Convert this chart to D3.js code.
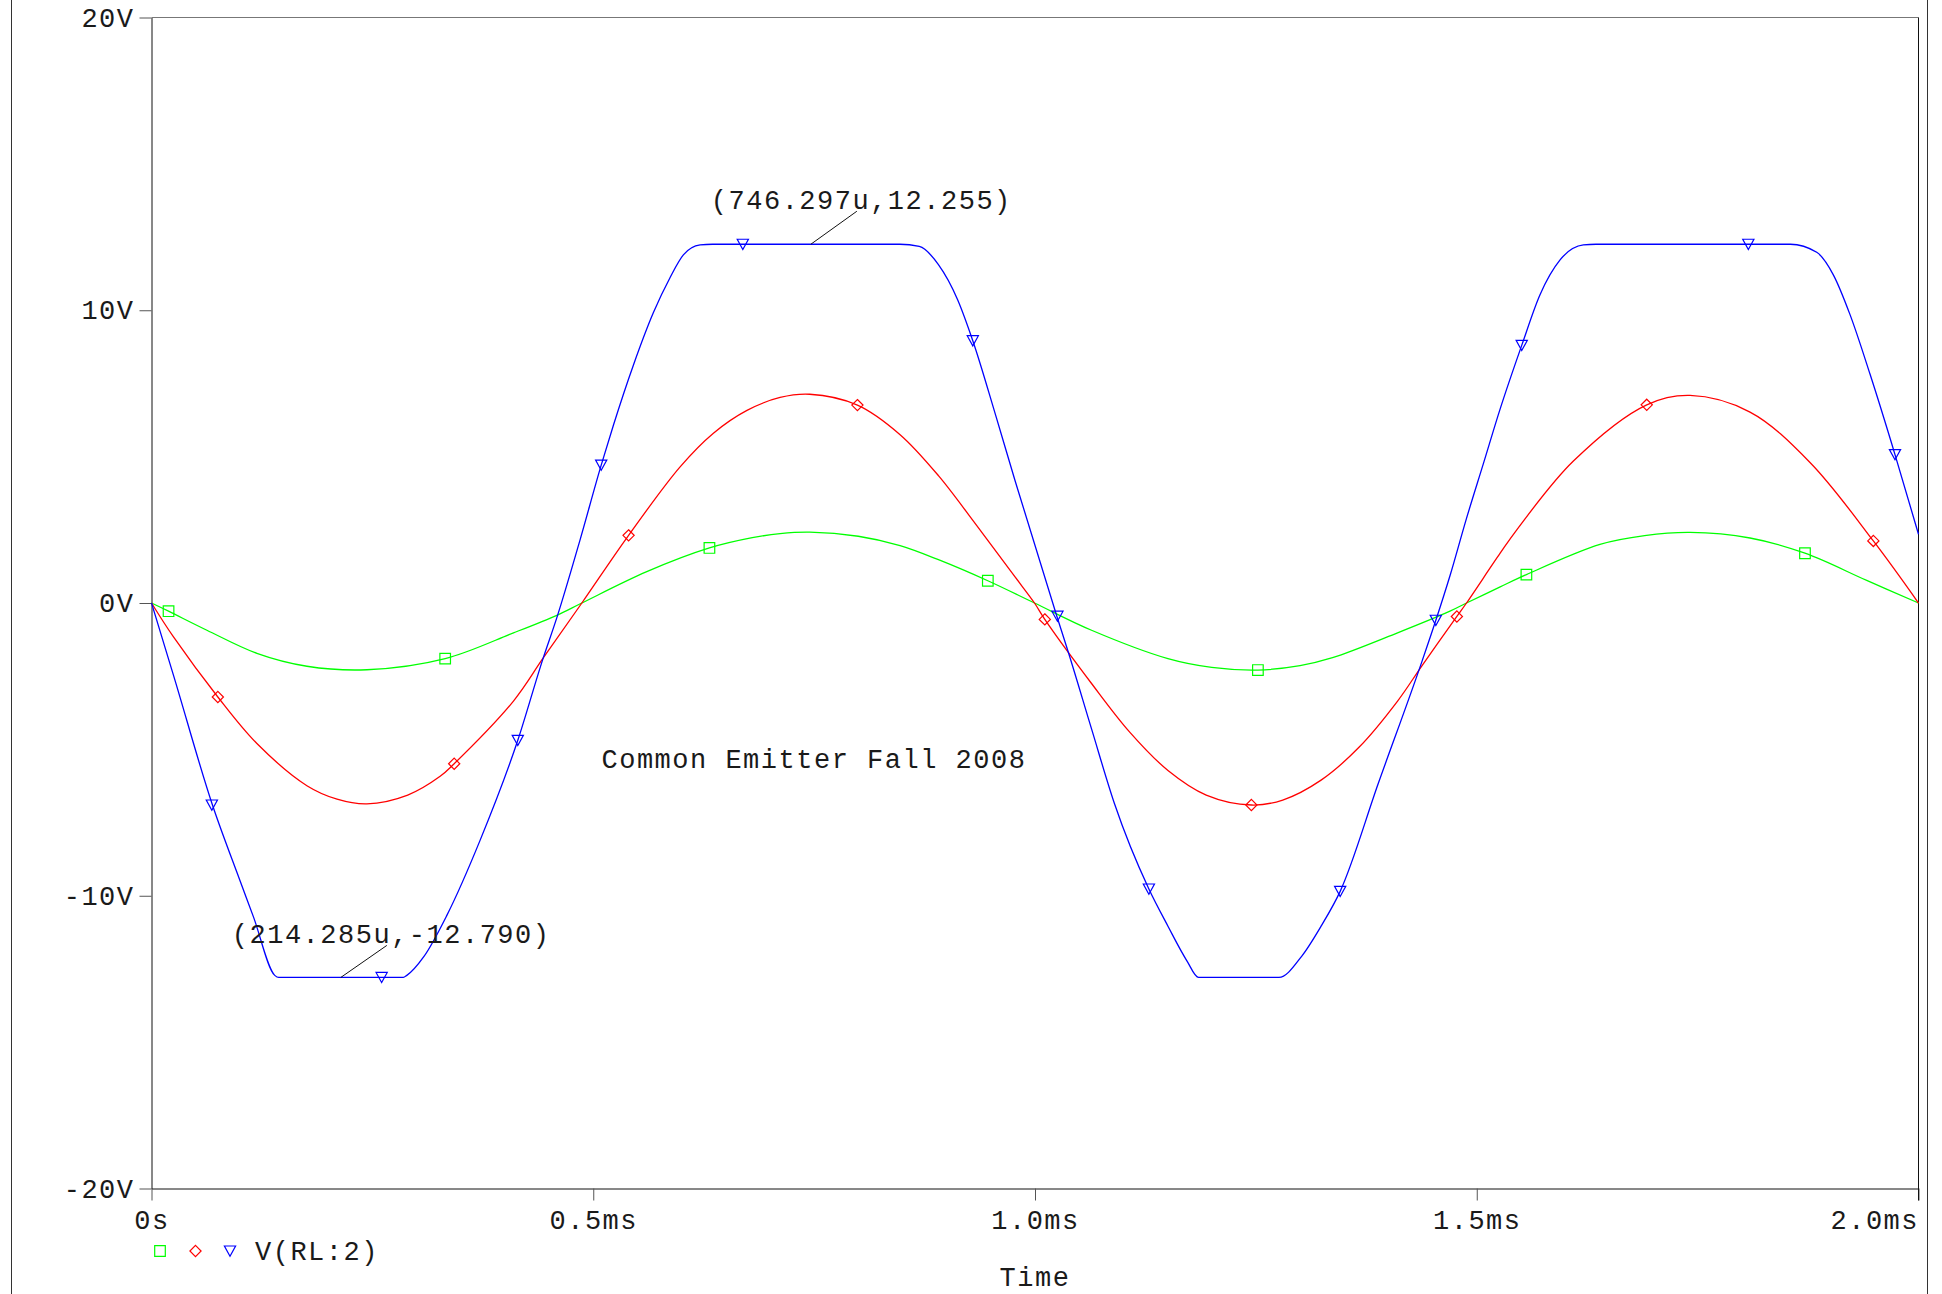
<!DOCTYPE html>
<html>
<head>
<meta charset="utf-8">
<script src="https://cdn.jsdelivr.net/npm/d3@7/dist/d3.min.js"></script>
<style>
  html, body { margin: 0; padding: 0; background: #ffffff; }
  svg { display: block; }
  text { font-family: "Liberation Mono", "DejaVu Sans Mono", monospace; font-size: 27px; letter-spacing: 1.5px; fill: #1a1a1a; }
</style>
</head>
<body>
<svg id="chart" width="1942" height="1294"></svg>
<script>
// ---------- data (time in ms, values in volts) ----------
const timeTicks = [0, 0.5, 1.0, 1.5, 2.0];
const timeTickLabels = ["0s", "0.5ms", "1.0ms", "1.5ms", "2.0ms"];
const voltTicks = [20, 10, 0, -10, -20];
const voltTickLabels = ["20V", "10V", "0V", "-10V", "-20V"];

const greenT = [0, 0.0193, 0.0627, 0.1193, 0.1759, 0.2438, 0.3324, 0.4097, 0.4588, 0.4871,
  0.5606, 0.6315, 0.6800, 0.7115, 0.745, 0.800, 0.8473, 0.8907, 0.9466, 0.9994,
  1.064, 1.1505, 1.2000, 1.2523, 1.3000, 1.3368, 1.4104, 1.4697, 1.4884, 1.5265,
  1.5562, 1.6395, 1.6900, 1.7414, 1.8093, 1.8715, 1.9414, 2.0];
const greenV = [0, -0.28, -0.93, -1.72, -2.16, -2.28, -1.90, -1.02, -0.42, 0.0,
  1.07, 1.88, 2.23, 2.37, 2.42, 2.28, 1.96, 1.48, 0.76, 0.0,
  -0.93, -1.90, -2.20, -2.29, -2.14, -1.87, -1.02, -0.28, 0.0, 0.55,
  0.97, 2.00, 2.30, 2.41, 2.22, 1.70, 0.77, 0.0];

const redT = [0, 0.0249, 0.0751, 0.1193, 0.1759, 0.2100, 0.2438, 0.2900, 0.3267, 0.3426,
  0.4097, 0.4436, 0.4871, 0.540, 0.5983, 0.636, 0.674, 0.7115, 0.745, 0.799,
  0.8473, 0.8907, 0.9339, 0.9772, 0.9994, 1.0111, 1.064, 1.1072, 1.1505, 1.1938,
  1.2449, 1.2804, 1.3238, 1.367, 1.4104, 1.4385, 1.4775, 1.4884, 1.5265, 1.5453,
  1.6094, 1.6924, 1.7414, 1.8093, 1.8772, 1.9489, 2.0];
const redV = [0, -1.16, -3.21, -4.80, -6.24, -6.70, -6.86, -6.56, -5.92, -5.49,
  -3.35, -1.87, 0.0, 2.31, 4.65, 5.80, 6.58, 7.02, 7.13, 6.76,
  5.75, 4.35, 2.65, 0.90, 0.0, -0.56, -2.75, -4.41, -5.72, -6.56,
  -6.90, -6.73, -6.05, -4.92, -3.35, -2.12, -0.46, 0.0, 1.70, 2.50,
  4.85, 6.77, 7.09, 6.52, 4.80, 2.12, 0.0];

const blueT = [0, 0.025, 0.069, 0.100, 0.1155, 0.1395, 0.144, 0.285, 0.289, 0.308,
  0.3343, 0.372, 0.4146, 0.4426, 0.4588, 0.485, 0.509, 0.5229, 0.5455, 0.5681,
  0.587, 0.602, 0.621, 0.635, 0.847, 0.869, 0.8907, 0.9123, 0.9296, 0.9556,
  0.9772, 1.0249, 1.0379, 1.064, 1.0899, 1.1289, 1.1505, 1.1721, 1.1851, 1.2761,
  1.302, 1.3238, 1.3454, 1.3887, 1.4385, 1.4537, 1.4697, 1.4884, 1.5075, 1.5265,
  1.5509, 1.5716, 1.5943, 1.6207, 1.635, 1.855, 1.8848, 1.9036, 1.9225, 1.9451,
  1.9734, 2.0];
const blueV = [0, -2.48, -6.90, -9.47, -10.73, -12.72, -12.79, -12.79, -12.72, -12.09,
  -10.67, -8.10, -4.69, -1.95, -0.50, 2.15, 4.71, 6.08, 8.13, 9.92,
  11.12, 11.89, 12.23, 12.255, 12.255, 12.18, 11.56, 10.37, 8.96, 6.40,
  4.20, -0.47, -1.70, -4.30, -6.85, -9.77, -11.04, -12.23, -12.79, -12.79,
  -12.06, -11.04, -9.85, -6.15, -1.95, -0.59, 0.93, 2.89, 4.76, 6.63,
  8.80, 10.53, 11.72, 12.23, 12.255, 12.255, 11.98, 11.21, 9.85, 7.82,
  5.07, 2.35];

const greenMarkT = [0.0193, 0.3324, 0.6315, 0.9466, 1.2523, 1.5562, 1.8715];
const greenMarkV = [-0.28, -1.90, 1.88, 0.76, -2.29, 0.97, 1.70];
const redMarkT = [0.0751, 0.3426, 0.540, 0.799, 1.0111, 1.2449, 1.4775, 1.6924, 1.9489];
const redMarkV = [-3.21, -5.49, 2.31, 6.76, -0.56, -6.90, -0.46, 6.77, 2.12];
const blueMarkT = [0.0683, 0.2605, 0.4146, 0.509, 0.6693, 0.9296, 1.0254, 1.1289, 1.3454, 1.4537, 1.5509, 1.8074, 1.9734];
const blueMarkV = [-6.90, -12.79, -4.69, 4.71, 12.255, 8.96, -0.45, -9.77, -9.85, -0.59, 8.80, 12.255, 5.07];

const cursorT = [0.746297, 0.214285];
const cursorV = [12.255, -12.790];
const cursorLabels = ["(746.297u,12.255)", "(214.285u,-12.790)"];

const titleText = "Common Emitter Fall 2008";
const legendText = "V(RL:2)";
const xTitle = "Time";

// ---------- layout ----------
(function () {
const svg = d3.select("#chart");
const pL = 151.5, pR = 1918.5, pT = 17.5, pB = 1188.5;
const x = d3.scaleLinear().domain([0, 2.0]).range([pL, pR]);
const y = d3.scaleLinear().domain([-20, 20]).range([pB, pT]);

const GREEN = "#00ff00", RED = "#ff0000", BLUE = "#0000ff";

// window frame lines
svg.append("line").attr("x1", 11.5).attr("x2", 11.5).attr("y1", 0).attr("y2", 1294)
  .attr("stroke", "#333").attr("stroke-width", 1);
svg.append("line").attr("x1", 1927.5).attr("x2", 1927.5).attr("y1", 0).attr("y2", 1294)
  .attr("stroke", "#333").attr("stroke-width", 1);

// axes
const yAxis = d3.axisLeft(y).tickValues(voltTicks)
  .tickFormat((d, i) => voltTickLabels[i]).tickSize(12).tickSizeOuter(0).tickPadding(5);
const gy = svg.append("g").attr("transform", `translate(${pL},0)`).call(yAxis);
gy.attr("font-family", null).attr("font-size", null);
gy.select(".domain").attr("stroke", "#111");
gy.selectAll(".tick line").attr("stroke", "#555");
gy.selectAll(".tick text").attr("dy", "8.5px");

const xAxis = d3.axisBottom(x).tickValues(timeTicks)
  .tickFormat((d, i) => timeTickLabels[i]).tickSize(12).tickSizeOuter(0);
const gx = svg.append("g").attr("transform", `translate(0,${pB})`).call(xAxis);
gx.attr("font-family", null).attr("font-size", null);
gx.select(".domain").attr("stroke", "#111");
gx.selectAll(".tick line").attr("stroke", "#555");
gx.selectAll(".tick text").attr("y", 40).attr("dy", 0)
  .attr("text-anchor", (d, i) => i === timeTicks.length - 1 ? "end" : "middle");

// top and right borders of the plot
svg.append("line").attr("x1", pL).attr("x2", pR).attr("y1", y(20)).attr("y2", y(20))
  .attr("stroke", "#777").attr("stroke-width", 1);
svg.append("line").attr("x1", pR).attr("x2", pR).attr("y1", y(20)).attr("y2", y(-20) + 12)
  .attr("stroke", "#111").attr("stroke-width", 1);

// curves
const smooth = d3.line().x(d => x(d[0])).y(d => y(d[1])).curve(d3.curveCatmullRom.alpha(0.5));
const mono = d3.line().x(d => x(d[0])).y(d => y(d[1])).curve(d3.curveMonotoneX);
const series = [
  { t: greenT, v: greenV, c: GREEN, g: smooth },
  { t: redT, v: redV, c: RED, g: smooth },
  { t: blueT, v: blueV, c: BLUE, g: mono }
];
const plot = svg.append("g");
series.forEach(s => {
  const pts = s.t.map((t, i) => [t, s.v[i]]);
  plot.append("path").datum(pts).attr("d", s.g)
    .attr("fill", "none").attr("stroke", s.c).attr("stroke-width", 1.3)
    .attr("stroke-linejoin", "round");
});

// marker shapes
const shapes = {
  square: "M-5.3,-5.3L5.3,-5.3L5.3,5.3L-5.3,5.3Z",
  diamond: "M0,-5.6L5.6,0L0,5.6L-5.6,0Z",
  triangle: "M-5.6,-5L5.6,-5L0,5.2Z"
};
function drawMarkers(ts, vs, shape, color) {
  plot.selectAll(null).data(ts.map((t, i) => [t, vs[i]])).enter().append("path")
    .attr("d", shapes[shape])
    .attr("transform", d => `translate(${x(d[0])},${y(d[1])})`)
    .attr("fill", "none").attr("stroke", color).attr("stroke-width", 1.2);
}
drawMarkers(greenMarkT, greenMarkV, "square", GREEN);
drawMarkers(redMarkT, redMarkV, "diamond", RED);
drawMarkers(blueMarkT, blueMarkV, "triangle", BLUE);

// cursor annotations
const offsets = [[-100, -35, 46, -33], [-109, -34, 46, -32]];
cursorT.forEach((t, i) => {
  const px = x(t), py = y(cursorV[i]);
  const o = offsets[i];
  svg.append("line").attr("x1", px).attr("y1", py).attr("x2", px + o[2]).attr("y2", py + o[3])
    .attr("stroke", "#111").attr("stroke-width", 1);
  svg.append("text").attr("x", px + o[0]).attr("y", py + o[1]).text(cursorLabels[i]);
});

// title inside plot
svg.append("text").attr("x", 601.5).attr("y", 768).text(titleText);

// legend
const legY = 1251;
svg.append("path").attr("d", shapes.square).attr("transform", `translate(160,${legY})`)
  .attr("fill", "none").attr("stroke", GREEN).attr("stroke-width", 1.2);
svg.append("path").attr("d", shapes.diamond).attr("transform", `translate(195.5,${legY})`)
  .attr("fill", "none").attr("stroke", RED).attr("stroke-width", 1.2);
svg.append("path").attr("d", shapes.triangle).attr("transform", `translate(230,${legY})`)
  .attr("fill", "none").attr("stroke", BLUE).attr("stroke-width", 1.2);
svg.append("text").attr("x", 255).attr("y", 1260).text(legendText);

// x axis title
svg.append("text").attr("x", (pL + pR) / 2).attr("y", 1286).attr("text-anchor", "middle").text(xTitle);
})();
</script>
</body>
</html>
